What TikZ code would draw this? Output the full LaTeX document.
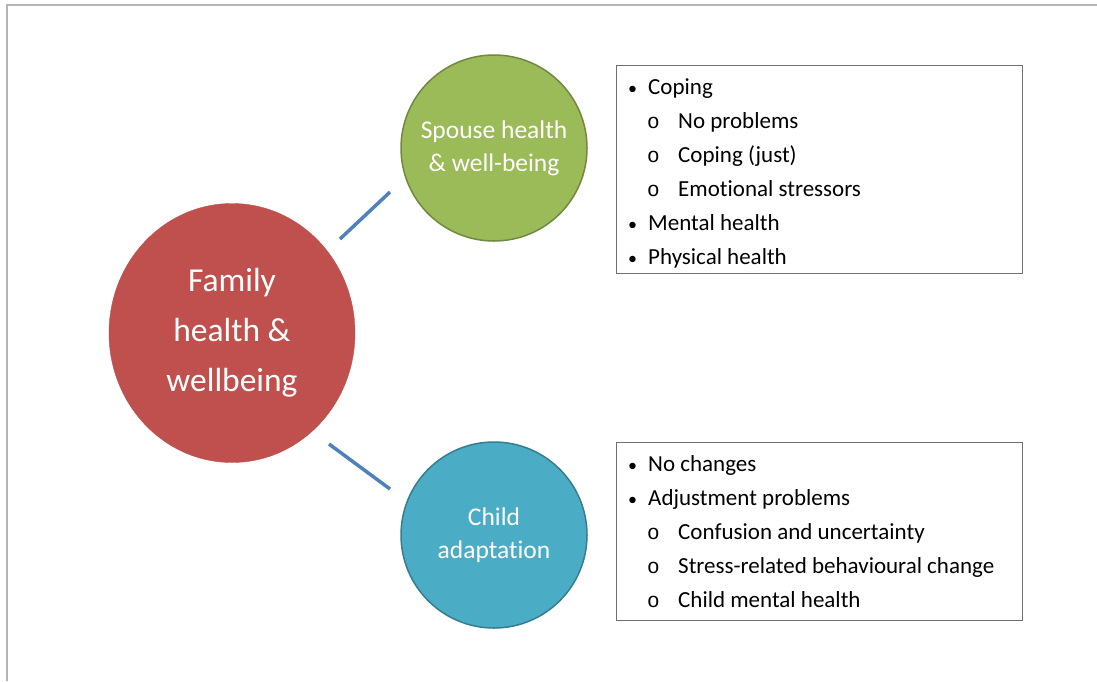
\documentclass[tikz,border=0pt]{standalone}
\usepackage{fontspec}
\setmainfont[Ligatures={NoCommon}]{Carlito}
\newfontfamily\bulfont{Liberation Mono}
\definecolor{redfill}{HTML}{C0504D}
\definecolor{greenfill}{HTML}{9BBB59}
\definecolor{greenline}{HTML}{71893F}
\definecolor{bluefill}{HTML}{4BACC6}
\definecolor{blueline}{HTML}{357D91}
\definecolor{linkcol}{HTML}{4F81BD}
\definecolor{framecol}{HTML}{B4B4B4}
\definecolor{boxline}{HTML}{707070}
\usetikzlibrary{shapes.geometric}
\tikzset{
  x=1pt, y=-1pt,
  hub/.style={ellipse, fill=redfill, draw=redfill, text=white, align=center, inner sep=0pt,
    minimum width=246pt, minimum height=259pt, font=\fontsize{33.5}{50}\selectfont},
  sat/.style={circle, line width=1.5pt, text=white, align=center, inner sep=0pt,
    minimum size=186pt, font=\fontsize{25.5}{33}\selectfont},
  link/.style={draw=linkcol, line width=3.5pt},
  listbox/.style={draw=boxline, line width=1.2pt, fill=white},
  item/.style={anchor=base west, inner sep=0pt, font=\fontsize{23}{27}\selectfont},
  bul/.style={anchor=base west, inner sep=0pt, font=\fontsize{18}{22}\selectfont},
  sbul/.style={anchor=base west, inner sep=0pt, font=\bulfont\fontsize{21}{24}\selectfont},
}
\begin{document}
\begin{tikzpicture}
\useasboundingbox (0,0) rectangle (1097,681);
\draw[framecol, line width=2pt] (7,681) -- (7,5) -- (1097,5);

\node[hub] (fam) at (232,333) {Family\\health \&\\wellbeing};
\node[sat, fill=greenfill, draw=greenline] (sp) at (494,148) {Spouse health\\\& well-being};
\node[sat, fill=bluefill, draw=blueline] (ch) at (494,535) {Child\\adaptation};

\coordinate (l1a) at (340,239);
\coordinate (l1b) at (390,192);
\coordinate (l2a) at (329,444);
\coordinate (l2b) at (390,489);
\draw[link] (l1a) -- (l1b);
\draw[link] (l2a) -- (l2b);

\node[listbox, minimum width=406pt, minimum height=208pt, anchor=north west] (b1) at (616,65) {};
\node[listbox, minimum width=406pt, minimum height=178pt, anchor=north west] (b2) at (616,442) {};

% top box
\node[bul] (t1b) at (628,94.5) {•}; \node[item] (t1) at (648,94.5) {Coping};
\node[sbul] (t2b) at (647,128.4) {o}; \node[item] (t2) at (678,128.4) {No problems};
\node[sbul] (t3b) at (647,162.3) {o}; \node[item] (t3) at (678,162.3) {Coping (just)};
\node[sbul] (t4b) at (647,196.2) {o}; \node[item] (t4) at (678,196.2) {Emotional stressors};
\node[bul] (t5b) at (628,230.1) {•}; \node[item] (t5) at (648,230.1) {Mental health};
\node[bul] (t6b) at (628,264) {•}; \node[item] (t6) at (648,264) {Physical health};

% bottom box
\node[bul] (u1b) at (628,471) {•}; \node[item] (u1) at (648,471) {No changes};
\node[bul] (u2b) at (628,505) {•}; \node[item] (u2) at (648,505) {Adjustment problems};
\node[sbul] (u3b) at (647,539) {o}; \node[item] (u3) at (678,539) {Confusion and uncertainty};
\node[sbul] (u4b) at (647,573) {o}; \node[item] (u4) at (678,573) {Stress-related behavioural change};
\node[sbul] (u5b) at (647,607) {o}; \node[item] (u5) at (678,607) {Child mental health};
\end{tikzpicture}
\end{document}
